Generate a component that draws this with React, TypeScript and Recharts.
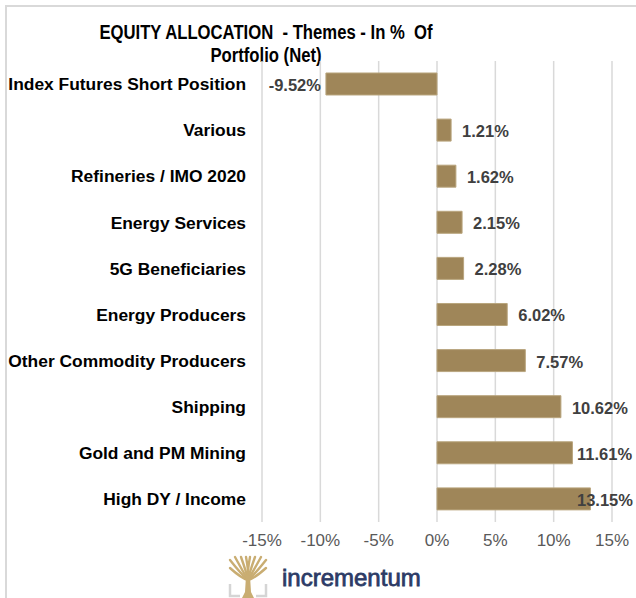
import React from 'react';
import {
  BarChart,
  Bar,
  XAxis,
  YAxis,
  CartesianGrid,
  LabelList,
} from 'recharts';

const themes = [
  'Index Futures Short Position',
  'Various',
  'Refineries / IMO 2020',
  'Energy Services',
  '5G Beneficiaries',
  'Energy Producers',
  'Other Commodity Producers',
  'Shipping',
  'Gold and PM Mining',
  'High DY / Income',
];
const weights = [-9.52, 1.21, 1.62, 2.15, 2.28, 6.02, 7.57, 10.62, 11.61, 13.15];
const xTicks = [-15, -10, -5, 0, 5, 10, 15];

const data = themes.map((name, i) => ({ name, value: weights[i] }));

const FONT = '"Liberation Sans", Arial, sans-serif';
const BAR = '#9f8659';
const GOLD = '#c9ad72';

// eslint-disable-next-line @typescript-eslint/no-explicit-any
function ValueLabel(props: any) {
  const { x, y, width, height, value } = props;
  const left = Math.min(x, x + width);
  const right = Math.max(x, x + width);
  const cy = y + height / 2 + 1;
  const text = `${Number(value).toFixed(2)}%`;
  if (value < 0) {
    return (
      <text x={left - 5} y={cy} textAnchor="end" dominantBaseline="central"
        fontFamily={FONT} fontSize={16.5} fontWeight="bold" fill="#404040">
        {text}
      </text>
    );
  }
  // keep the label inside the frame, as the spreadsheet does
  return (
    <text x={Math.min(right + 11, 577)} y={cy} textAnchor="start" dominantBaseline="central"
      fontFamily={FONT} fontSize={16.5} fontWeight="bold" fill="#404040">
      {text}
    </text>
  );
}

function Logo() {
  // crown of the tree: curved branches fanning out from the trunk
  const tips = [
    [4, 8], [4, 16], [9, 5], [15, 5], [20, 5], [24, 5], [29, 5], [35, 5], [40, 8], [40, 16],
  ];
  return (
    <svg width={200} height={46} style={{ position: 'absolute', left: 226, top: 552 }}>
      <path d="M4 32 L4 44 L14 44 M40 32 L40 44 L30 44" stroke="#d5d5d5" strokeWidth={2.5} fill="none" />
      <g stroke={GOLD} strokeWidth={2.4} fill="none" strokeLinecap="round">
        {tips.map(([tx, ty], i) => (
          <path key={i} d={`M22 28 Q${(22 + tx) / 2 + (tx < 22 ? 2 : -2)} ${(28 + ty) / 2 + 4} ${tx} ${ty}`} />
        ))}
      </g>
      <path d="M20 24 L24 24 L25 40 L28 46 L16 46 L19 40 Z" fill={GOLD} />
      <text x={56} y={34} fontFamily={FONT} fontSize={24} fill="#2c3b66" stroke="#2c3b66" strokeWidth={0.8}>
        incrementum
      </text>
    </svg>
  );
}

export default function App() {
  return (
    <div style={{ position: 'absolute', left: 0, top: 0, width: 636, height: 598, background: '#fff', overflow: 'hidden' }}>
      <div style={{ position: 'absolute', left: 5, top: 5, width: 631, height: 2, background: '#d9d9d9' }} />
      <div style={{ position: 'absolute', left: 5, top: 5, width: 2, height: 593, background: '#d9d9d9' }} />
      <div style={{ position: 'absolute', left: 0, top: 21, width: 532, textAlign: 'center', fontFamily: FONT, fontSize: 19.5, fontWeight: 'bold', lineHeight: '23px', color: '#000', transform: 'scaleX(0.855)', transformOrigin: '266px 0' }}>
        EQUITY ALLOCATION&nbsp; - Themes - In %&nbsp; Of<br />Portfolio (Net)
      </div>
      <div style={{ position: 'absolute', left: 0, top: 0 }}>
        <BarChart
          width={636}
          height={598}
          data={data}
          layout="vertical"
          barCategoryGap="26%"
          margin={{ top: 61, right: 24, bottom: 46, left: 8 }}
        >
          <CartesianGrid horizontal={false} stroke="#d9d9d9" strokeWidth={1.5} />
          <XAxis
            type="number"
            domain={[-15, 15]}
            ticks={xTicks}
            tickFormatter={(v) => `${v}%`}
            tick={{ fontSize: 17, fill: '#595959', fontFamily: FONT }}
            axisLine={false}
            tickLine={false}
            tickMargin={6}
            interval={0}
          />
          <YAxis
            type="category"
            dataKey="name"
            width={254}
            tick={{ fontSize: 17.4, fill: '#000', fontFamily: FONT, fontWeight: 'bold' }}
            axisLine={false}
            tickLine={false}
            tickSize={0}
            tickMargin={16}
            interval={0}
          />
          <Bar dataKey="value" fill={BAR} stroke="#b9a57e" strokeWidth={1} isAnimationActive={false}>
            <LabelList dataKey="value" content={<ValueLabel />} />
          </Bar>
        </BarChart>
      </div>
      <Logo />
    </div>
  );
}
